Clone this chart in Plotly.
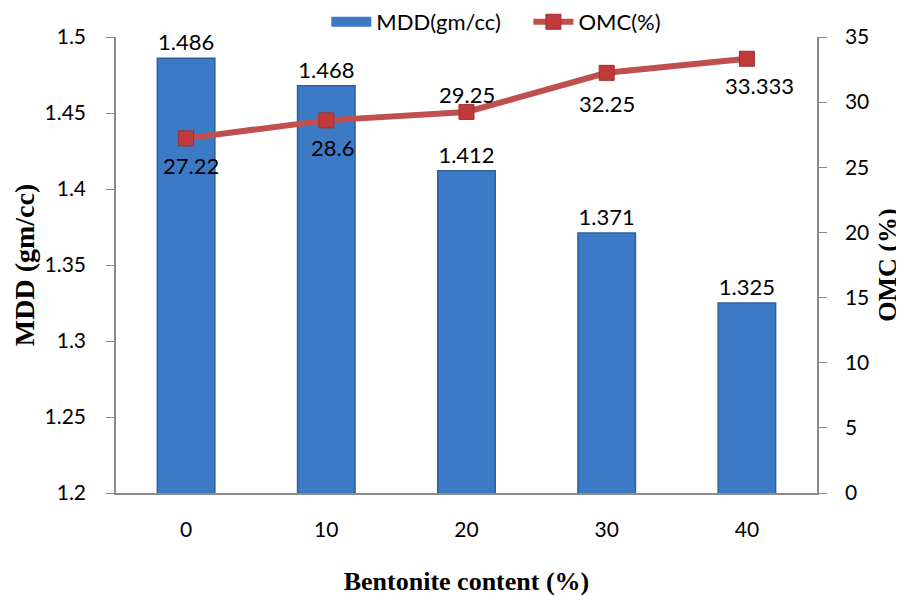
import plotly.graph_objects as go

categories = ["0", "10", "20", "30", "40"]
mdd = [1.486, 1.468, 1.412, 1.371, 1.325]
omc = [27.22, 28.6, 29.25, 32.25, 33.333]
mdd_labels = ["1.486", "1.468", "1.412", "1.371", "1.325"]
omc_labels = ["27.22", "28.6", "29.25", "32.25", "33.333"]

# label placement style for OMC data labels (pixel offsets from the marker)
omc_label_yshift = [-27, -27, 17, -31, -27]
omc_label_xshift = [5, 6, 0, 0, 13]

BLUE = "#3d7ac6"
RED = "#c0504d"
tick_font = dict(family="Lato, Open Sans, sans-serif", size=21, color="#000000")
label_font = dict(family="Lato, Open Sans, sans-serif", size=22, color="#000000")
serif = "Liberation Serif, Times New Roman, serif"

fig = go.Figure()
fig.add_trace(go.Bar(
    x=categories, y=mdd, name="MDD(gm/cc)", showlegend=False,
    marker=dict(color=BLUE, line=dict(color="#2c5f9e", width=1.5)),
    text=mdd_labels, textposition="outside", cliponaxis=False,
    textfont=label_font, width=0.41,
))
# legend entry imitating the wide bar swatch
fig.add_trace(go.Scatter(
    x=[None], y=[None], name="MDD(gm/cc)\u00a0\u00a0\u00a0\u00a0", mode="lines",
    line=dict(color=BLUE, width=10),
))
fig.add_trace(go.Scatter(
    x=categories, y=omc, name="OMC(%)", yaxis="y2", mode="lines+markers",
    line=dict(color=RED, width=6),
    marker=dict(symbol="square", size=15, color="#c0393b", line=dict(color="#a32d2d", width=1)),
    cliponaxis=False,
))

for i, (v, t, ys, xs) in enumerate(zip(omc, omc_labels, omc_label_yshift, omc_label_xshift)):
    fig.add_annotation(x=i, y=v, xref="x", yref="y2", text=t, showarrow=False,
                       yshift=ys, xshift=xs, font=label_font)

fig.update_layout(
    width=896, height=588,
    margin=dict(l=108, r=87, t=29, b=103, autoexpand=False),
    plot_bgcolor="white", paper_bgcolor="white",
    showlegend=True,
    legend=dict(orientation="h", x=0.30, xanchor="left", y=1.033, yanchor="middle",
                font=dict(family="Lato, Open Sans, sans-serif", size=22, color="#000"),
                bgcolor="rgba(255,255,255,0)", itemwidth=40,
                traceorder="normal"),
    xaxis=dict(
        type="category", showline=True, linecolor="#8c8c8c", linewidth=1.5,
        ticks="", tickfont=tick_font, showgrid=False, automargin=False,
        ticklabelstandoff=17,
        title=dict(text="<b>Bentonite content (%)</b>", font=dict(family=serif, size=26, color="#000"), standoff=32),
    ),
    yaxis=dict(
        range=[1.2, 1.5], dtick=0.05, showline=True, linecolor="#8c8c8c",
        linewidth=1.5, ticks="outside", ticklen=8, tickcolor="#8c8c8c", showgrid=False,
        tickfont=tick_font, zeroline=False, automargin=False, ticklabelstandoff=16,
        title=dict(text="<b>MDD (gm/cc)</b>", font=dict(family=serif, size=28, color="#000"), standoff=2),
    ),
    yaxis2=dict(
        range=[0, 35], dtick=5, overlaying="y", side="right", showline=True,
        linecolor="#8c8c8c", linewidth=1.5, ticks="outside", ticklen=8, tickcolor="#8c8c8c",
        showgrid=False, tickfont=tick_font, zeroline=False, automargin=False, ticklabelstandoff=14,
        title=dict(text="<b>OMC (%)</b>", font=dict(family=serif, size=26, color="#000"), standoff=9),
    ),
)
fig.write_html("out.html")
